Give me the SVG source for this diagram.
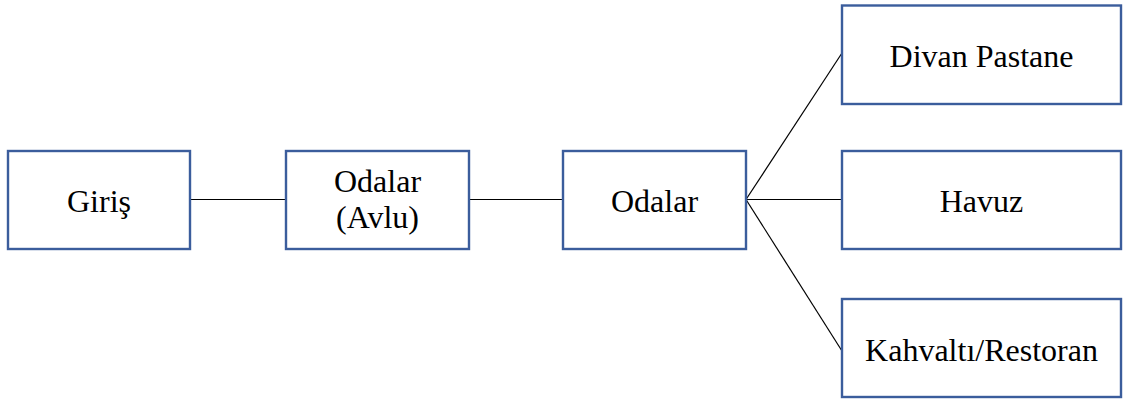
<svg xmlns="http://www.w3.org/2000/svg" width="1123" height="399" viewBox="0 0 1123 399">
  <style>
    .box { fill: #ffffff; stroke: #3B5D9C; stroke-width: 2.4; }
    .lbl { font-family: "Liberation Serif", "Times New Roman", serif; font-size: 32px; fill: #000000; text-anchor: middle; }
    .conn { stroke: #000000; stroke-width: 1.2; fill: none; }
  </style>
  <rect width="1123" height="399" fill="#ffffff"/>
  <g id="connectors">
    <line class="conn" x1="190" y1="199.5" x2="286" y2="199.5"/>
    <line class="conn" x1="469" y1="199.5" x2="563" y2="199.5"/>
    <line class="conn" x1="746" y1="199.5" x2="842" y2="199.5"/>
    <line class="conn" x1="746" y1="199.5" x2="842" y2="53"/>
    <line class="conn" x1="746" y1="199.5" x2="842" y2="351"/>
  </g>
  <g id="giris">
    <rect class="box" x="8" y="151" width="182" height="98"/>
    <text class="lbl" x="99" y="212">Giriş</text>
  </g>
  <g id="odalar-avlu">
    <rect class="box" x="286" y="151" width="183" height="98"/>
    <text class="lbl" x="377.5" y="191.5">Odalar</text>
    <text class="lbl" x="377.5" y="227.5">(Avlu)</text>
  </g>
  <g id="odalar">
    <rect class="box" x="563" y="151" width="183" height="98"/>
    <text class="lbl" x="654.5" y="212">Odalar</text>
  </g>
  <g id="divan-pastane">
    <rect class="box" x="842" y="5.5" width="279" height="98.5"/>
    <text class="lbl" x="981.5" y="66.5">Divan Pastane</text>
  </g>
  <g id="havuz">
    <rect class="box" x="842" y="151" width="279" height="98"/>
    <text class="lbl" x="981.5" y="212">Havuz</text>
  </g>
  <g id="kahvalti-restoran">
    <rect class="box" x="842" y="299" width="279" height="98"/>
    <text class="lbl" x="981.5" y="360.5">Kahvaltı/Restoran</text>
  </g>
</svg>
